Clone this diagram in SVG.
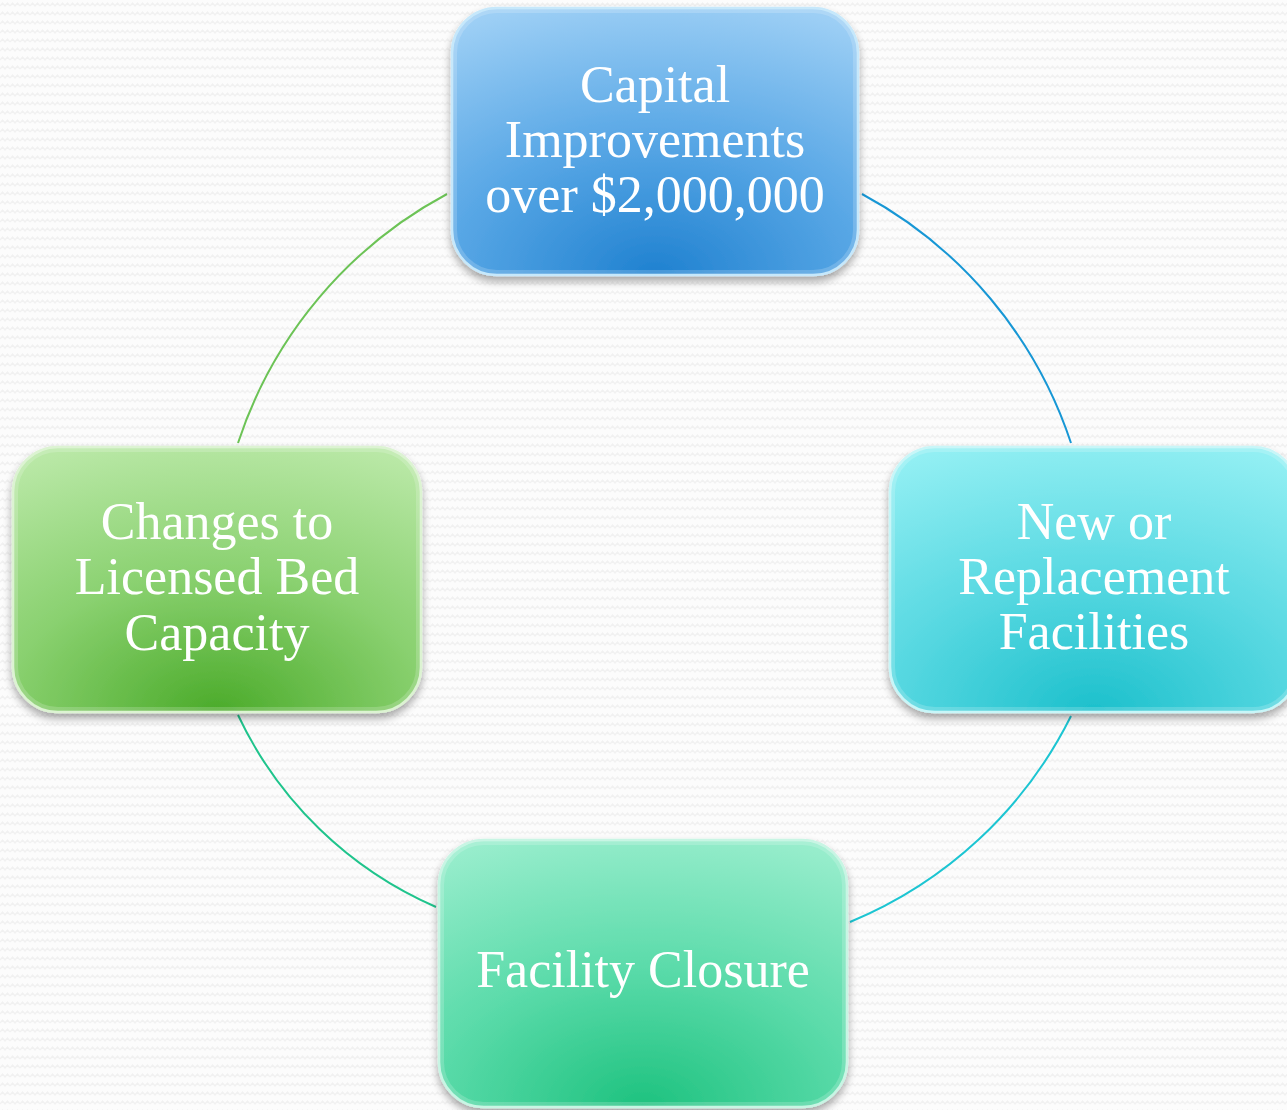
<svg xmlns="http://www.w3.org/2000/svg" width="1287" height="1110" viewBox="0 0 1287 1110">
  <style>
    .lbl { font-family: "Liberation Serif", "Times New Roman", serif; font-size: 52px; fill: #ffffff; text-anchor: middle; }
    .arc { fill: none; stroke-width: 2; }
    .box { stroke-width: 2.5; filter: url(#shadow); }
    .gloss { fill: none; stroke: #ffffff; stroke-opacity: 0.18; stroke-width: 4; }
  </style>
  <defs>
    <pattern id="zig" width="10" height="9" patternUnits="userSpaceOnUse">
      <path d="M0,6 L2.5,3 L5,6 L7.5,3 L10,6" fill="none" stroke="#f1f1f1" stroke-width="1.4"/>
    </pattern>
    <filter id="shadow" x="-10%" y="-10%" width="120%" height="125%">
      <feGaussianBlur in="SourceAlpha" stdDeviation="4"/>
      <feOffset dx="0" dy="5" result="b"/>
      <feComponentTransfer><feFuncA type="linear" slope="0.35"/></feComponentTransfer>
      <feMerge><feMergeNode/><feMergeNode in="SourceGraphic"/></feMerge>
    </filter>
    <radialGradient id="gBlue" cx="0.5" cy="1" r="1.05" fx="0.5" fy="1">
      <stop offset="0" stop-color="#1f81d0"/>
      <stop offset="0.5" stop-color="#5aa8e6"/>
      <stop offset="1" stop-color="#9dcff5"/>
    </radialGradient>
    <radialGradient id="gGreen" cx="0.5" cy="1" r="1.05" fx="0.5" fy="1">
      <stop offset="0" stop-color="#4bab2a"/>
      <stop offset="0.5" stop-color="#8ad170"/>
      <stop offset="1" stop-color="#b9e8a6"/>
    </radialGradient>
    <radialGradient id="gCyan" cx="0.5" cy="1" r="1.05" fx="0.5" fy="1">
      <stop offset="0" stop-color="#1cc0cc"/>
      <stop offset="0.5" stop-color="#5ad9e2"/>
      <stop offset="1" stop-color="#92eff3"/>
    </radialGradient>
    <radialGradient id="gTeal" cx="0.5" cy="1" r="1.05" fx="0.5" fy="1">
      <stop offset="0" stop-color="#1ec27f"/>
      <stop offset="0.5" stop-color="#5bdbaa"/>
      <stop offset="1" stop-color="#97edcc"/>
    </radialGradient>
  </defs>

  <rect x="0" y="0" width="1287" height="1110" fill="#fcfcfc"/>
  <rect x="0" y="0" width="1287" height="1110" fill="url(#zig)"/>

  <g id="connectors">
    <path class="arc" stroke="#6cc356" d="M447,194 A437,437 0 0 0 238,443"/>
    <path class="arc" stroke="#1797d5" d="M862,194 A440,440 0 0 1 1071,443"/>
    <path class="arc" stroke="#1fc48c" d="M238,715 A391,391 0 0 0 436,907"/>
    <path class="arc" stroke="#1cc5d2" d="M1071,716 A430,430 0 0 1 850,922"/>
  </g>

  <g id="node-capital">
    <rect class="box" x="452" y="8" width="406" height="267" rx="45" fill="url(#gBlue)" stroke="#c6e8fb"/>
    <rect class="gloss" x="455" y="11" width="400" height="261" rx="42"/>
    <text class="lbl" x="655" y="102">Capital</text>
    <text class="lbl" x="655" y="157">Improvements</text>
    <text class="lbl" x="655" y="212">over $2,000,000</text>
  </g>

  <g id="node-new">
    <rect class="box" x="890" y="447" width="408" height="265" rx="45" fill="url(#gCyan)" stroke="#c8f6f8"/>
    <rect class="gloss" x="893" y="450" width="402" height="259" rx="42"/>
    <text class="lbl" x="1094" y="539">New or</text>
    <text class="lbl" x="1094" y="594">Replacement</text>
    <text class="lbl" x="1094" y="649">Facilities</text>
  </g>

  <g id="node-closure">
    <rect class="box" x="439" y="840" width="408" height="267" rx="45" fill="url(#gTeal)" stroke="#c8f5e4"/>
    <rect class="gloss" x="442" y="843" width="402" height="261" rx="42"/>
    <text class="lbl" x="643" y="987">Facility Closure</text>
  </g>

  <g id="node-changes">
    <rect class="box" x="13" y="447" width="408" height="265" rx="45" fill="url(#gGreen)" stroke="#dcf3d2"/>
    <rect class="gloss" x="16" y="450" width="402" height="259" rx="42"/>
    <text class="lbl" x="217" y="539">Changes to</text>
    <text class="lbl" x="217" y="594">Licensed Bed</text>
    <text class="lbl" x="217" y="650">Capacity</text>
  </g>
</svg>
